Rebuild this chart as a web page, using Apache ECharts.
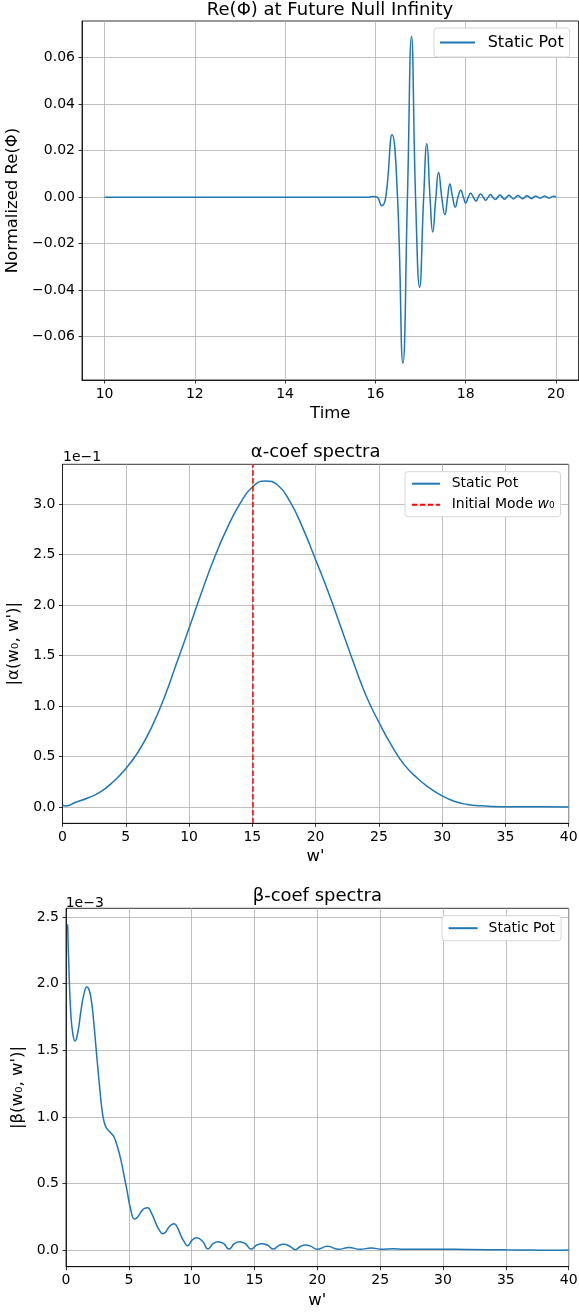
<!DOCTYPE html>
<html>
<head>
<meta charset="utf-8">
<script src="https://cdn.jsdelivr.net/npm/echarts@6/dist/echarts.min.js"></script>
<style>
html, body { margin: 0; padding: 0; background: #fff; }
#chart { width: 579px; height: 1313px; }
</style>
</head>
<body>
<div id="chart"></div>
<script>
// Re(Phi) at future null infinity (extrema and zero crossings)
const timeVals = [10, 15.85, 15.95, 16.04, 16.14, 16.23, 16.37, 16.49, 16.61, 16.71, 16.80, 16.89,
  16.98, 17.07, 17.14, 17.21, 17.27, 17.34, 17.40, 17.47, 17.54, 17.60, 17.65, 17.71,
  17.77, 17.83, 17.89, 17.95, 18.00, 18.06, 18.11, 18.17, 18.23, 18.28, 18.33, 18.39,
  18.44, 18.50, 18.55, 18.60, 18.66, 18.71, 18.76, 18.81, 18.86, 18.91, 18.96, 19.01,
  19.06, 19.11, 19.16, 19.21, 19.26, 19.31, 19.36, 19.41, 19.46, 19.51, 19.55, 19.60,
  19.65, 19.70, 19.75, 19.80, 19.85, 19.90, 19.95, 20.0];
const rePhiVals = [0, 0, 0.0003, 0, -0.0037, 0, 0.0268, 0, -0.0714, 0, 0.0690, 0,
  -0.0388, 0, 0.0229, 0, -0.0150, 0, 0.0107, 0, -0.0076, 0, 0.0056, 0,
  -0.0043, 0, 0.0030, 0, -0.0025, 0, 0.0017, 0, -0.0017, 0, 0.0013, 0,
  -0.0013, 0, 0.0011, 0, -0.0010, 0, 0.0009, 0, -0.0009, 0, 0.0008, 0,
  -0.0008, 0, 0.0007, 0, -0.0007, 0, 0.0006, 0, -0.0006, 0, 0.0005, 0,
  -0.0005, 0, 0.0005, 0, -0.0004, 0, 0.0004, 0];
const timeTicks = [10, 12, 14, 16, 18, 20];
const rePhiTicks = [-0.06, -0.04, -0.02, 0, 0.02, 0.04, 0.06];

// alpha spectrum, values in units of 1e-1
const alphaW = [0, 0.3, 1, 2, 3, 4, 5, 6, 7, 8, 9, 10, 11, 12, 13, 14, 15, 16, 17, 18, 19, 20,
  21, 22, 23, 24, 25, 26, 27, 28, 29, 30, 31, 32, 33, 34, 36, 38, 40];
const alphaVals = [0.02, 0.01, 0.045, 0.09, 0.15, 0.25, 0.38, 0.55, 0.78, 1.07, 1.42, 1.77, 2.13, 2.47,
  2.76, 3.00, 3.17, 3.23, 3.19, 3.02, 2.76, 2.45, 2.13, 1.78, 1.43, 1.10, 0.84, 0.61, 0.42, 0.29,
  0.19, 0.11, 0.055, 0.025, 0.012, 0.006, 0.003, 0.002, 0.001];
const alphaTicks = [0, 0.5, 1.0, 1.5, 2.0, 2.5, 3.0];
const initialMode = 15;

// beta spectrum, values in units of 1e-3
const betaW = [0.13, 0.24, 0.39, 0.55, 0.72, 0.95, 1.18, 1.42, 1.66, 1.85, 2.03, 2.2, 2.37, 2.55, 2.71,
  2.87, 3.03, 3.2, 3.42, 3.62, 3.82, 4.08, 4.34, 4.6, 4.87, 5.13, 5.45, 5.7, 5.98, 6.25, 6.5,
  6.8, 7.1, 7.4, 7.71, 7.95, 8.2, 8.6, 8.85, 9.1, 9.4, 9.68, 10.03, 10.39, 10.85, 11.3, 11.7,
  12.1, 12.55, 12.97, 13.4, 13.8, 14.27, 14.74, 15.15, 15.6, 16.05, 16.5, 16.9, 17.3, 17.78,
  18.25, 18.65, 19.05, 19.5, 19.97, 20.8, 21.7, 22.5, 23.4, 24.3, 25.1, 26.05, 26.85, 28, 30,
  32, 35, 37, 38.5, 40];
const betaVals = [2.445, 2.09, 1.765, 1.62, 1.57, 1.64, 1.79, 1.92, 1.975, 1.95, 1.865, 1.72, 1.54, 1.35, 1.19,
  1.05, 0.965, 0.92, 0.895, 0.875, 0.85, 0.78, 0.69, 0.57, 0.44, 0.315, 0.235, 0.25, 0.29, 0.315, 0.32,
  0.28, 0.215, 0.155, 0.125, 0.14, 0.175, 0.2, 0.175, 0.12, 0.065, 0.035, 0.077, 0.095, 0.07, 0.01, 0.05,
  0.065, 0.05, 0.01, 0.05, 0.065, 0.05, 0.01, 0.038, 0.05, 0.038, 0.01, 0.034, 0.045, 0.033,
  0.005, 0.029, 0.04, 0.03, 0.008, 0.03, 0.008, 0.022, 0.008, 0.018, 0.008, 0.013, 0.008, 0.009, 0.008,
  0.007, 0.004, 0.003, 0.0, 0.003];
const betaTicks = [0, 0.5, 1.0, 1.5, 2.0, 2.5];
const wTicks = [0, 5, 10, 15, 20, 25, 30, 35, 40];

const FONT = 'DejaVu Sans';
const BLUE = '#1f77b4';

const pairs = (xs, ys) => xs.map((x, i) => [x, ys[i]]);
const minus = s => s.replace('-', '\u2212');

function axis(gridIndex, min, max, ticks, digits, name, nameGap) {
  return {
    type: 'value', gridIndex, min, max,
    name, nameLocation: 'middle', nameGap,
    nameTextStyle: { color: '#000', fontSize: 16.5, fontFamily: FONT },
    axisLine: { show: true, onZero: false, lineStyle: { color: '#000', width: 0.8 } },
    axisTick: { show: true, inside: false, length: 3.5, customValues: ticks,
      lineStyle: { color: '#000', width: 0.8 } },
    axisLabel: { customValues: ticks, margin: 7, color: '#000', fontSize: 14, fontFamily: FONT,
      formatter: v => minus(v.toFixed(digits)) },
    splitLine: { show: true, lineStyle: { color: '#b0b0b0', width: 0.8 } }
  };
}

function legend(left, top, names, font, iconW, pad, textPad) {
  return {
    data: names, orient: 'vertical', left, top, padding: pad,
    itemWidth: iconW, itemHeight: font, itemGap: 7, selectedMode: false,
    itemStyle: { opacity: 0 },
    backgroundColor: '#fff', borderColor: '#d6d6d6', borderWidth: 1, borderRadius: 3,
    formatter: n => n === 'Initial Mode w0' ? '{a|Initial Mode }{i|w}{a|\u2080}' : n,
    textStyle: { color: '#000', fontSize: font, fontFamily: FONT, padding: [0, 0, 0, textPad],
      rich: { a: { fontSize: font, fontFamily: FONT, color: '#000' },
              i: { fontSize: font, fontFamily: FONT, fontStyle: 'italic', color: '#000' } } }
  };
}

function title(text, x, top) {
  return { text, left: x, top, textAlign: 'center', padding: 0,
    textStyle: { fontSize: 18, fontWeight: 'normal', color: '#000', fontFamily: FONT } };
}

const offsetText = (left, top, text) => ({ type: 'text', left, top,
  style: { text, font: '14px "DejaVu Sans"', fill: '#000' } });

const lineSeries = (xi, data) => ({
  name: 'Static Pot', type: 'line', xAxisIndex: xi, yAxisIndex: xi, data,
  symbol: 'none', smooth: 0.5, lineStyle: { color: BLUE, width: 1.5 }, itemStyle: { color: BLUE }
});

const gridBox = (left, top, width, height) => ({
  left, top, width, height, show: true, borderColor: '#000', borderWidth: 0.8,
  outerBoundsMode: 'none', containLabel: false
});

const option = {
  animation: false,
  backgroundColor: '#fff',
  title: [
    title('Re(\u03a6) at Future Null Infinity', 330, 1),
    title('\u03b1-coef spectra', 315.6, 443),
    title('\u03b2-coef spectra', 317.3, 887)
  ],
  graphic: [
    offsetText(63, 450, '1e\u22121'),
    offsetText(65.7, 896, '1e\u22123')
  ],
  legend: [
    legend(434, 28, ['Static Pot'], 16, 35, [6.5, 6, 6.5, 5], 7.7),
    legend(405, 471.7, ['Static Pot', 'Initial Mode w0'], 14, 28, [5, 6, 5, 6], 6.7),
    legend(442, 915.7, ['Static Pot'], 14, 29, [5.5, 6, 5.5, 5.6], 6)
  ],
  grid: [
    gridBox(82, 21, 496.5, 359),
    gridBox(62.5, 464.3, 506.2, 359),
    gridBox(66, 908.3, 502.7, 358.4)
  ],
  xAxis: [
    axis(0, 9.5, 20.5, timeTicks, 0, 'Time', 25),
    axis(1, 0, 40, wTicks, 0, "w'", 25),
    axis(2, 0, 40, wTicks, 0, "w'", 26)
  ],
  yAxis: [
    axis(0, -0.0786, 0.0757, rePhiTicks, 2, 'Normalized Re(\u03a6)', 49),
    axis(1, -0.161, 3.395, alphaTicks, 1, '|\u03b1(w\u2080, w\')|', 29.5),
    axis(2, -0.1225, 2.565, betaTicks, 1, '|\u03b2(w\u2080, w\')|', 33)
  ],
  series: [
    lineSeries(0, pairs(timeVals, rePhiVals)),
    lineSeries(1, pairs(alphaW, alphaVals)),
    {
      name: 'Initial Mode w0', type: 'line', xAxisIndex: 1, yAxisIndex: 1, data: [],
      symbol: 'none', lineStyle: { color: '#ff0000', width: 1.5, type: [5.5, 2.4] },
      itemStyle: { color: '#ff0000' },
      markLine: { silent: true, symbol: ['none', 'none'], label: { show: false },
        lineStyle: { color: '#ff0000', width: 1.5, type: [5.5, 2.4] },
        data: [{ xAxis: initialMode }] }
    },
    lineSeries(2, pairs(betaW, betaVals))
  ]
};

const chart = echarts.init(document.getElementById('chart'), null, { renderer: 'canvas' });
chart.setOption(option);
</script>
</body>
</html>
